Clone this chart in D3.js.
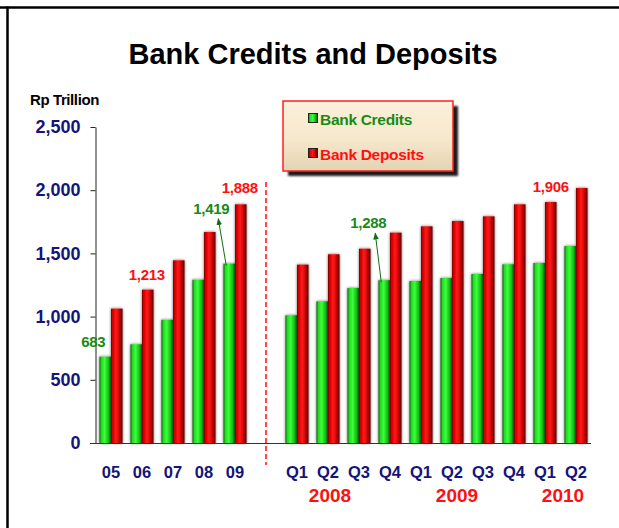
<!DOCTYPE html>
<html>
<head>
<meta charset="utf-8">
<script src="https://cdn.jsdelivr.net/npm/d3@7"></script>
<style>
  body { margin: 0; background: #fff; }
  svg { display: block; font-family: "Liberation Sans", Arial, sans-serif; }
</style>
</head>
<body>
<svg id="chart" width="619" height="528"></svg>
<script>
// categories: 5 years, a gap, then 10 quarters
const categories = ["05", "06", "07", "08", "09", "gap",
    "2008Q1", "2008Q2", "2008Q3", "2008Q4",
    "2009Q1", "2009Q2", "2009Q3", "2009Q4",
    "2010Q1", "2010Q2"];
const tickLabels = ["05", "06", "07", "08", "09", "",
    "Q1", "Q2", "Q3", "Q4", "Q1", "Q2", "Q3", "Q4", "Q1", "Q2"];
const credits = [683, 781, 975, 1292, 1419, null,
    1010, 1121, 1226, 1288, 1282, 1305, 1337, 1414, 1424, 1558];
const deposits = [1063, 1213, 1445, 1669, 1888, null,
    1411, 1493, 1537, 1664, 1714, 1756, 1793, 1888, 1906, 2017];
const yTicks = [0, 500, 1000, 1500, 2000, 2500];
const years = [["2008", "2008Q2", 2], ["2009", "2009Q2", 5], ["2010", "2010Q1", 18]];

// which bars get a value label (label offset / optional arrow start)
const callouts = [
    {key: "05", series: "credits", dx: -12, dy: -10},
    {key: "06", series: "deposits", dx: -1, dy: -10},
    {key: "09", series: "credits", dx: -18, dy: -50, arrow: true},
    {key: "09", series: "deposits", dx: -1, dy: -11},
    {key: "2008Q4", series: "credits", dx: -16, dy: -52, arrow: true},
    {key: "2010Q1", series: "deposits", dx: 0, dy: -10}
];

const svg = d3.select("#chart");
const defs = svg.append("defs");

const navy = "#14147a";
const greenText = "#178a17";
const redText = "#ff1010";

function barGradient(id, stops) {
    const g = defs.append("linearGradient").attr("id", id)
        .attr("x1", "0%").attr("x2", "100%").attr("y1", "0%").attr("y2", "0%");
    stops.forEach(s => g.append("stop").attr("offset", s[0]).attr("stop-color", s[1]));
}
barGradient("gGreen", [["0%", "#075f07"], ["15%", "#1ed81e"], ["45%", "#3cff3c"], ["80%", "#10b810"], ["100%", "#044a04"]]);
barGradient("gRed", [["0%", "#6e0000"], ["15%", "#dc0000"], ["45%", "#ff1a1a"], ["80%", "#b80000"], ["100%", "#4a0000"]]);

const legendGrad = defs.append("linearGradient").attr("id", "gLegend")
    .attr("x1", "0%").attr("x2", "0%").attr("y1", "0%").attr("y2", "100%");
legendGrad.append("stop").attr("offset", "0%").attr("stop-color", "#fcf0da");
legendGrad.append("stop").attr("offset", "55%").attr("stop-color", "#f6e8cc");
legendGrad.append("stop").attr("offset", "100%").attr("stop-color", "#e2d3b2");

const glow = defs.append("filter").attr("id", "glow")
    .attr("x", "-40%").attr("y", "-10%").attr("width", "180%").attr("height", "120%");
glow.append("feGaussianBlur").attr("in", "SourceAlpha").attr("stdDeviation", 1.4).attr("result", "b");
glow.append("feFlood").attr("flood-color", "#000").attr("flood-opacity", 0.6);
glow.append("feComposite").attr("in2", "b").attr("operator", "in").attr("result", "s");
const gm = glow.append("feMerge");
gm.append("feMergeNode").attr("in", "s");
gm.append("feMergeNode").attr("in", "SourceGraphic");

const blur = defs.append("filter").attr("id", "blur");
blur.append("feGaussianBlur").attr("stdDeviation", 1.2);

defs.append("marker").attr("id", "arrowG")
    .attr("viewBox", "0 0 10 10").attr("refX", 9).attr("refY", 5)
    .attr("markerWidth", 7).attr("markerHeight", 7).attr("orient", "auto")
    .append("path").attr("d", "M0,1 L10,5 L0,9 Z").attr("fill", "#0f6e0f");

// frame
svg.append("line").attr("x1", 0).attr("x2", 619).attr("y1", 7.5).attr("y2", 7.5)
    .attr("stroke", "#000").attr("stroke-width", 2.5);
svg.append("line").attr("x1", 7.5).attr("x2", 7.5).attr("y1", 6.5).attr("y2", 528)
    .attr("stroke", "#000").attr("stroke-width", 2.5);

// title
svg.append("text").attr("x", 313).attr("y", 64).attr("text-anchor", "middle")
    .attr("font-size", 29).attr("font-weight", "bold").attr("fill", "#000")
    .text("Bank Credits and Deposits");

svg.append("text").attr("x", 30).attr("y", 105)
    .attr("font-size", 15).attr("font-weight", "bold").attr("fill", "#000")
    .attr("letter-spacing", -0.4)
    .text("Rp Trillion");

const x = d3.scaleBand().domain(categories).range([95.5, 591.5]).padding(0);
const y = d3.scaleLinear().domain([0, 2500]).range([443, 127]);
const bw = 11.5;

// y axis
const yAxis = svg.append("g").attr("transform", "translate(95.5,0)")
    .call(d3.axisLeft(y).tickValues(yTicks).tickFormat(d3.format(",")).tickSize(5).tickSizeOuter(0).tickPadding(10));
yAxis.select(".domain").attr("stroke", "#222");
yAxis.selectAll(".tick line").attr("stroke", "#222");
yAxis.selectAll(".tick text").attr("font-size", 18).attr("font-weight", "bold")
    .attr("fill", navy).attr("font-family", "Liberation Sans, Arial, sans-serif");

// bars
const rows = categories.map((c, i) => ({key: c, credits: credits[i], deposits: deposits[i]}))
    .filter(d => d.credits != null);

const bars = svg.append("g").attr("filter", "url(#glow)");
bars.selectAll("rect.credit").data(rows).join("rect").attr("class", "credit")
    .attr("x", d => x(d.key) + x.bandwidth() / 2 - bw)
    .attr("y", d => y(d.credits))
    .attr("width", bw)
    .attr("height", d => y(0) - y(d.credits))
    .attr("fill", "url(#gGreen)");
bars.selectAll("rect.deposit").data(rows).join("rect").attr("class", "deposit")
    .attr("x", d => x(d.key) + x.bandwidth() / 2)
    .attr("y", d => y(d.deposits))
    .attr("width", bw)
    .attr("height", d => y(0) - y(d.deposits))
    .attr("fill", "url(#gRed)");

// baseline
svg.append("line").attr("x1", 90).attr("x2", 591).attr("y1", 443.5).attr("y2", 443.5)
    .attr("stroke", "#333").attr("stroke-width", 1.2);

// dashed separator
const gapX = x("gap") + x.bandwidth() / 2;
svg.append("line").attr("x1", gapX).attr("x2", gapX).attr("y1", 182).attr("y2", 465)
    .attr("stroke", "#ff1a1a").attr("stroke-width", 1.6).attr("stroke-dasharray", "5,3");

// x tick labels
svg.append("g").selectAll("text").data(categories.filter((c, i) => tickLabels[i] !== ""))
    .join("text")
    .attr("x", d => x(d) + x.bandwidth() / 2)
    .attr("y", 478)
    .attr("text-anchor", "middle")
    .attr("font-size", 16.5).attr("font-weight", "bold").attr("fill", navy)
    .text(d => tickLabels[categories.indexOf(d)]);

svg.append("g").selectAll("text").data(years).join("text")
    .attr("x", d => x(d[1]) + x.bandwidth() / 2 + d[2])
    .attr("y", 502)
    .attr("text-anchor", "middle")
    .attr("font-size", 19).attr("font-weight", "bold").attr("fill", redText)
    .text(d => d[0]);

// value callouts
const fmt = d3.format(",");
callouts.forEach(c => {
    const i = categories.indexOf(c.key);
    const v = c.series === "credits" ? credits[i] : deposits[i];
    const cx = x(c.key) + x.bandwidth() / 2 + (c.series === "credits" ? -bw / 2 : bw / 2);
    const top = y(v);
    const col = c.series === "credits" ? greenText : redText;
    if (c.arrow) {
        svg.append("line")
            .attr("x1", cx - 3).attr("y1", top + 2)
            .attr("x2", cx + c.dx + 7).attr("y2", top + c.dy + 5)
            .attr("stroke", "#0f6e0f").attr("stroke-width", 1)
            .attr("marker-end", "url(#arrowG)");
    }
    svg.append("text")
        .attr("x", cx + c.dx)
        .attr("y", top + c.dy)
        .attr("text-anchor", "middle")
        .attr("font-size", 15).attr("font-weight", "bold").attr("fill", col)
        .attr("letter-spacing", -0.3)
        .text(fmt(v));
});

// legend
const legend = svg.append("g").attr("transform", "translate(283,101)");
legend.append("rect").attr("x", 5).attr("y", 5).attr("width", 170).attr("height", 70)
    .attr("fill", "#1a1a1a").attr("filter", "url(#blur)");
legend.append("rect").attr("width", 170).attr("height", 70)
    .attr("fill", "url(#gLegend)").attr("stroke", "#ff2020").attr("stroke-width", 1.5);
const legendItems = [["Bank Credits", "url(#gGreen)", greenText, 18], ["Bank Deposits", "url(#gRed)", redText, 53]];
legendItems.forEach(it => {
    legend.append("rect").attr("x", 25.5).attr("y", it[3] - 5.5).attr("width", 9).attr("height", 9)
        .attr("fill", it[1]).attr("stroke", "#222").attr("stroke-width", 1);
    legend.append("text").attr("x", 37).attr("y", it[3] + 5.5)
        .attr("font-size", 15.5).attr("font-weight", "bold").attr("fill", it[2])
        .attr("letter-spacing", -0.3)
        .text(it[0]);
});
</script>
</body>
</html>
